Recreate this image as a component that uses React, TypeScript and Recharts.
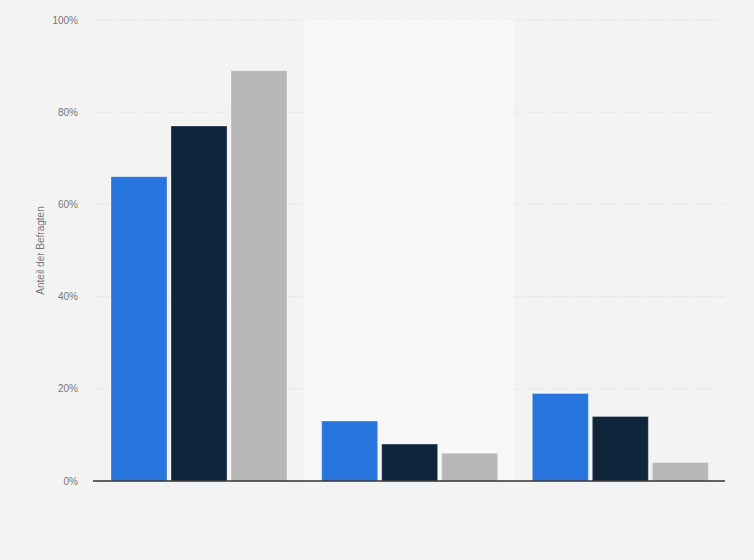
import React from 'react';
import { BarChart, Bar, XAxis, YAxis, CartesianGrid, ReferenceArea } from 'recharts';

const categories = ['A', 'B', 'C'];
const series1 = [66, 13, 19];
const series2 = [77, 8, 14];
const series3 = [89, 6, 4];
const yTicks = [0, 20, 40, 60, 80, 100];

const data = categories.map((c, i) => ({ name: c, s1: series1[i], s2: series2[i], s3: series3[i] }));

const font = '"Liberation Sans", Arial, sans-serif';

export default function App() {
  return (
    <div style={{ position: 'absolute', left: 0, top: 0, width: 754, height: 560, background: '#f3f3f3', fontFamily: font }}>
      <BarChart
        width={754}
        height={560}
        data={data}
        margin={{ top: 20, right: 29, bottom: 69, left: 0 }}
        barCategoryGap={18}
        barGap={4}
      >
        <CartesianGrid vertical={false} stroke="#d8d8d8" strokeDasharray="1 2" />
        <ReferenceArea x1="B" x2="B" y1={0} y2={100} fill="#ffffff" fillOpacity={0.45} stroke="none" ifOverflow="extendDomain" />
        <XAxis dataKey="name" tick={false} tickLine={false} axisLine={{ stroke: '#333333', strokeWidth: 1.5 }} height={10} />
        <YAxis
          width={93}
          domain={[0, 100]}
          ticks={yTicks}
          tickFormatter={(v) => `${v}%`}
          axisLine={false}
          tickLine={false}
          tickSize={0}
          tickMargin={15}
          tick={{ fill: '#777777', fontSize: 10, fontFamily: font }}
          label={{ value: 'Anteil der Befragten', angle: -90, position: 'insideLeft', offset: 40, style: { textAnchor: 'middle', fill: '#777777', fontSize: 10, fontFamily: font } }}
        />
        <Bar dataKey="s1" fill="#2876dd" stroke="rgba(255,255,255,0.3)" strokeWidth={1} isAnimationActive={false} />
        <Bar dataKey="s2" fill="#0f253c" stroke="rgba(255,255,255,0.3)" strokeWidth={1} isAnimationActive={false} />
        <Bar dataKey="s3" fill="#b7b7b7" stroke="rgba(255,255,255,0.3)" strokeWidth={1} isAnimationActive={false} />
      </BarChart>
    </div>
  );
}
